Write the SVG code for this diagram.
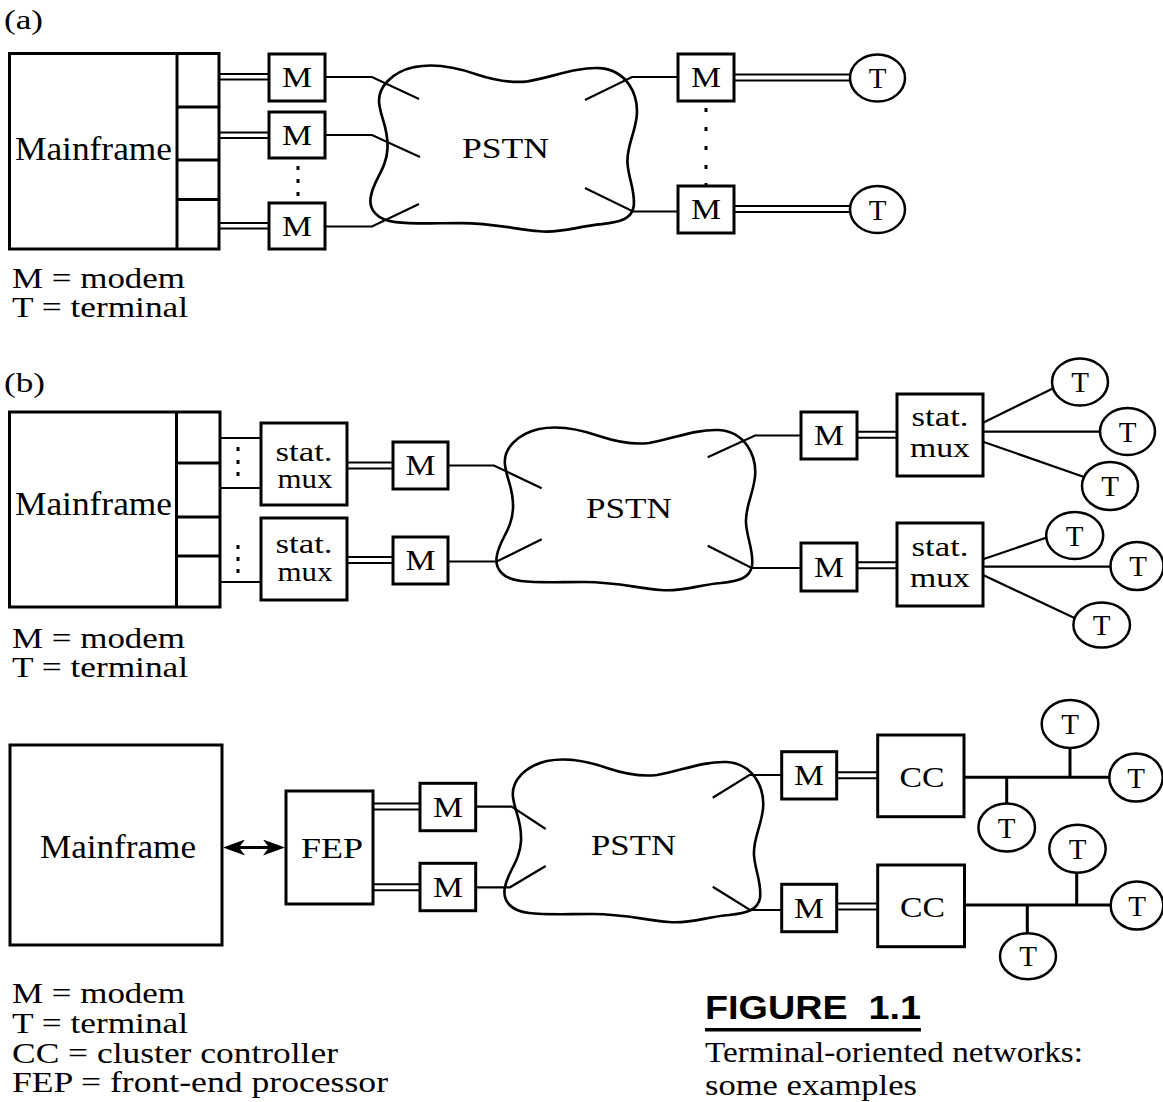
<svg xmlns="http://www.w3.org/2000/svg" xmlns:xlink="http://www.w3.org/1999/xlink" width="1163" height="1102" viewBox="0 0 1163 1102">
<style>
.box{fill:#fff;stroke:#000;stroke-width:3}
.div{fill:none;stroke:#000;stroke-width:3}
.ln{fill:none;stroke:#000;stroke-width:2.2}
.dbl{fill:none;stroke:#000;stroke-width:2}
.bus{fill:none;stroke:#000;stroke-width:3}
.cloud{fill:none;stroke:#000;stroke-width:2.6}
.term{fill:#fff;stroke:#000;stroke-width:2.5}
.t{font-family:"Liberation Serif","Times New Roman",serif;fill:#000}
.c{text-anchor:middle}
.m{font-size:29px}
.big{font-size:33px}
.leg{font-size:29px}
.mux{font-size:27px}
.dot{fill:#000}
</style>
<defs>
<path id="cloud" d="M 8,40 C 6,24 20,9 42,4 C 62,0 82,4 102,11 C 120,17 136,20 152,18 C 176,14 198,4 222,5 C 248,7 260,30 258,52 C 256,70 248,82 249,98 C 250,114 257,126 255,141 C 253,153 242,156 224,158 C 200,160 186,167 164,165 C 140,163 118,157 88,157 C 60,157 40,158 24,156 C 6,154 -3,144 0,130 C 3,114 15,104 16,84 C 17,64 10,56 8,40 Z"/>
<marker id="ah" viewBox="0 0 22 16" refX="6" refY="8" markerWidth="22" markerHeight="16" markerUnits="userSpaceOnUse" orient="auto-start-reverse">
<path d="M0,0 L22,8 L0,16 L6,8 Z" fill="#000"/>
</marker>
</defs>
<rect width="1163" height="1102" fill="#fff"/>

<!-- ================= connectors ================= -->
<g id="connectors">
<!-- (a) -->
<path class="dbl" d="M219,74 H269 M219,79.5 H269 M219,132.5 H269 M219,138 H269 M219,223 H269 M219,228.5 H269"/>
<path class="ln" d="M325,77 H372 L419,99 M325,135 H372 L420,157 M325,226.5 H372 L419,204"/>
<path class="ln" d="M585,100 L632,77 H678 M585,188 L633,211.5 H678"/>
<path class="dbl" d="M734,74.5 H850 M734,80.5 H850 M734,206 H850 M734,212 H850"/>
<!-- (b) -->
<path class="ln" d="M220,438 H262 M220,488 H262 M220,582 H262"/>
<path class="dbl" d="M347,462.5 H393 M347,468.5 H393 M347,557 H393 M347,563 H393"/>
<path class="ln" d="M448,465.5 H494 L541.7,488.3 M448,561.5 H496.7 L541.7,539.3"/>
<path class="ln" d="M707.7,457.3 L755,435.5 H801 M707.7,545.7 L751.7,568 H801"/>
<path class="dbl" d="M857,431.7 H897 M857,437.7 H897 M857,562.3 H897 M857,568.3 H897"/>
<path class="ln" d="M983,422.7 L1053.3,388.3 M983,431.7 H1100 M983,441.7 L1083.3,476.7"/>
<path class="ln" d="M983,559.3 L1046,537.7 M983,566.7 H1110 M983,575 L1075,618.3"/>
<!-- (c) -->
<line class="bus" x1="239" y1="847.5" x2="269" y2="847.5" marker-start="url(#ah)" marker-end="url(#ah)"/>
<path class="dbl" d="M373,803.5 H420 M373,809.5 H420 M373,884.3 H420 M373,890.3 H420"/>
<path class="ln" d="M475.7,806.7 H511.7 L545.7,829 M475.7,887.3 H510 L545.7,866"/>
<path class="ln" d="M712.7,797.7 L749.3,775 H781.7 M712.7,886.7 L750,910 H781.7"/>
<path class="dbl" d="M836.7,772.3 H877.7 M836.7,778.3 H877.7 M836.7,903.5 H877.7 M836.7,909.5 H877.7"/>
<path class="bus" d="M964,777.3 H1109.3 M1006.7,777.3 V804 M1070,777.3 V748.3"/>
<path class="bus" d="M964,905 H1110.7 M1076.7,905 V872.7 M1027.3,905 V933.3"/>
</g>

<!-- ================= section (a) ================= -->
<text class="t" x="4" y="29" font-size="28" textLength="39" lengthAdjust="spacingAndGlyphs">(a)</text>
<g id="a-mainframe">
<rect class="box" x="9.5" y="53.5" width="209.5" height="195.5"/>
<path class="div" d="M177,53.5 V249 M177,107 H219 M177,160 H219 M177,199.5 H219"/>
<text class="t big" x="15" y="160" textLength="157" lengthAdjust="spacingAndGlyphs">Mainframe</text>
</g>
<g id="a-m1"><rect class="box" x="269" y="54" width="56" height="47"/><text class="t m c" x="297" y="87" textLength="30" lengthAdjust="spacingAndGlyphs">M</text></g>
<g id="a-m2"><rect class="box" x="269" y="112" width="56" height="46"/><text class="t m c" x="297" y="144.5" textLength="30" lengthAdjust="spacingAndGlyphs">M</text></g>
<g id="a-m3"><rect class="box" x="269" y="203" width="56" height="46"/><text class="t m c" x="297" y="235.5" textLength="30" lengthAdjust="spacingAndGlyphs">M</text></g>
<g id="a-dots-left"><rect class="dot" x="296.5" y="166" width="3" height="4"/><rect class="dot" x="296.5" y="179" width="3" height="4"/><rect class="dot" x="296.5" y="192" width="3" height="4"/></g>
<g id="a-pstn">
<use xlink:href="#cloud" class="cloud" transform="translate(371,63) scale(1.03,1.02)"/>
<text class="t" x="462" y="158" font-size="30" textLength="87" lengthAdjust="spacingAndGlyphs">PSTN</text>
</g>
<g id="a-m4"><rect class="box" x="678" y="54" width="56" height="47"/><text class="t m c" x="706" y="87" textLength="30" lengthAdjust="spacingAndGlyphs">M</text></g>
<g id="a-m5"><rect class="box" x="678" y="186" width="56" height="47"/><text class="t m c" x="706" y="219" textLength="30" lengthAdjust="spacingAndGlyphs">M</text></g>
<g id="a-dots-right"><rect class="dot" x="704.5" y="108" width="3" height="4"/><rect class="dot" x="704.5" y="127" width="3" height="4"/><rect class="dot" x="704.5" y="146" width="3" height="4"/><rect class="dot" x="704.5" y="165" width="3" height="4"/><rect class="dot" x="704.5" y="183" width="3" height="3"/></g>
<g id="a-t1"><ellipse class="term" cx="877.5" cy="78" rx="27.5" ry="23.5"/><text class="t m c" x="877.5" y="88">T</text></g>
<g id="a-t2"><ellipse class="term" cx="877.5" cy="209.5" rx="27.5" ry="23.5"/><text class="t m c" x="877.5" y="219.5">T</text></g>
<g id="a-legend">
<text class="t leg" x="12" y="287.5" textLength="173" lengthAdjust="spacingAndGlyphs">M = modem</text>
<text class="t leg" x="12" y="317" textLength="176" lengthAdjust="spacingAndGlyphs">T = terminal</text>
</g>

<!-- ================= section (b) ================= -->
<text class="t" x="4" y="392" font-size="28" textLength="41" lengthAdjust="spacingAndGlyphs">(b)</text>
<g id="b-mainframe">
<rect class="box" x="9.5" y="412" width="210.5" height="195"/>
<path class="div" d="M176.5,412 V607 M176.5,463 H220 M176.5,517 H220 M176.5,556 H220"/>
<text class="t big" x="15" y="515" textLength="157" lengthAdjust="spacingAndGlyphs">Mainframe</text>
</g>
<g id="b-dots"><rect class="dot" x="236.5" y="447" width="3" height="4"/><rect class="dot" x="236.5" y="460" width="3" height="4"/><rect class="dot" x="236.5" y="472" width="3" height="4"/><rect class="dot" x="236.5" y="545" width="3" height="4"/><rect class="dot" x="236.5" y="557" width="3" height="4"/><rect class="dot" x="236.5" y="569" width="3" height="4"/></g>
<g id="b-mux1"><rect class="box" x="261" y="423" width="86" height="82"/><text class="t c mux" x="304" y="461" textLength="57" lengthAdjust="spacingAndGlyphs">stat.</text><text class="t c mux" x="305" y="488" textLength="55" lengthAdjust="spacingAndGlyphs">mux</text></g>
<g id="b-mux2"><rect class="box" x="261" y="518" width="86" height="82"/><text class="t c mux" x="304" y="553" textLength="57" lengthAdjust="spacingAndGlyphs">stat.</text><text class="t c mux" x="305" y="581" textLength="55" lengthAdjust="spacingAndGlyphs">mux</text></g>
<g id="b-m1"><rect class="box" x="393" y="442" width="55" height="47"/><text class="t m c" x="420.5" y="475" textLength="30" lengthAdjust="spacingAndGlyphs">M</text></g>
<g id="b-m2"><rect class="box" x="393" y="537" width="55" height="47"/><text class="t m c" x="420.5" y="570" textLength="30" lengthAdjust="spacingAndGlyphs">M</text></g>
<g id="b-pstn">
<use xlink:href="#cloud" class="cloud" transform="translate(497,425)"/>
<text class="t" x="586" y="518" font-size="30" textLength="86" lengthAdjust="spacingAndGlyphs">PSTN</text>
</g>
<g id="b-m3"><rect class="box" x="801" y="412" width="56" height="47"/><text class="t m c" x="829" y="445" textLength="30" lengthAdjust="spacingAndGlyphs">M</text></g>
<g id="b-m4"><rect class="box" x="801" y="543" width="56" height="48"/><text class="t m c" x="829" y="577" textLength="30" lengthAdjust="spacingAndGlyphs">M</text></g>
<g id="b-mux3"><rect class="box" x="897" y="394" width="86" height="82"/><text class="t c mux" x="940" y="426" textLength="57" lengthAdjust="spacingAndGlyphs">stat.</text><text class="t c mux" x="940" y="457" textLength="60" lengthAdjust="spacingAndGlyphs">mux</text></g>
<g id="b-mux4"><rect class="box" x="897" y="523" width="86" height="83"/><text class="t c mux" x="940" y="556" textLength="57" lengthAdjust="spacingAndGlyphs">stat.</text><text class="t c mux" x="940" y="587" textLength="60" lengthAdjust="spacingAndGlyphs">mux</text></g>
<g id="b-t1"><ellipse class="term" cx="1080" cy="382" rx="28" ry="23.5"/><text class="t m c" x="1080" y="392">T</text></g>
<g id="b-t2"><ellipse class="term" cx="1127.5" cy="431.5" rx="27.5" ry="23.5"/><text class="t m c" x="1127.5" y="441.5">T</text></g>
<g id="b-t3"><ellipse class="term" cx="1110" cy="486" rx="28" ry="24"/><text class="t m c" x="1110" y="496">T</text></g>
<g id="b-t4"><ellipse class="term" cx="1074.7" cy="535.5" rx="28.5" ry="23.5"/><text class="t m c" x="1074.7" y="545.5">T</text></g>
<g id="b-t5"><ellipse class="term" cx="1137" cy="566" rx="26.5" ry="24"/><text class="t m c" x="1138" y="576">T</text></g>
<g id="b-t6"><ellipse class="term" cx="1101.7" cy="625" rx="28.3" ry="22.5"/><text class="t m c" x="1101.7" y="635">T</text></g>
<g id="b-legend">
<text class="t leg" x="12" y="648" textLength="173" lengthAdjust="spacingAndGlyphs">M = modem</text>
<text class="t leg" x="12" y="677" textLength="176" lengthAdjust="spacingAndGlyphs">T = terminal</text>
</g>

<!-- ================= section (c) ================= -->
<g id="c-mainframe">
<rect class="box" x="10" y="745" width="212" height="200"/>
<text class="t big" x="40" y="858" textLength="156" lengthAdjust="spacingAndGlyphs">Mainframe</text>
</g>
<g id="c-fep"><rect class="box" x="286" y="791" width="87" height="113"/><text class="t" font-size="30" x="301" y="858" textLength="62" lengthAdjust="spacingAndGlyphs">FEP</text></g>
<g id="c-m1"><rect class="box" x="420" y="783.3" width="55.7" height="47.4"/><text class="t m c" x="448" y="817" textLength="30" lengthAdjust="spacingAndGlyphs">M</text></g>
<g id="c-m2"><rect class="box" x="420" y="863.3" width="55.7" height="47.4"/><text class="t m c" x="448" y="897" textLength="30" lengthAdjust="spacingAndGlyphs">M</text></g>
<g id="c-pstn">
<use xlink:href="#cloud" class="cloud" transform="translate(505,757)"/>
<text class="t" x="591" y="855" font-size="30" textLength="85" lengthAdjust="spacingAndGlyphs">PSTN</text>
</g>
<g id="c-m3"><rect class="box" x="781.7" y="751.7" width="55" height="47.3"/><text class="t m c" x="809" y="785" textLength="30" lengthAdjust="spacingAndGlyphs">M</text></g>
<g id="c-m4"><rect class="box" x="781.7" y="884.3" width="55" height="47.4"/><text class="t m c" x="809" y="918" textLength="30" lengthAdjust="spacingAndGlyphs">M</text></g>
<g id="c-cc1"><rect class="box" x="877.7" y="735" width="86.3" height="81.7"/><text class="t" font-size="30" x="899.5" y="787" textLength="45" lengthAdjust="spacingAndGlyphs">CC</text></g>
<g id="c-cc2"><rect class="box" x="877.7" y="865" width="86.8" height="81.7"/><text class="t" font-size="30" x="900" y="917" textLength="45" lengthAdjust="spacingAndGlyphs">CC</text></g>
<g id="c-t1"><ellipse class="term" cx="1070" cy="724" rx="28.3" ry="24"/><text class="t m c" x="1070" y="734">T</text></g>
<g id="c-t2"><ellipse class="term" cx="1136" cy="777.5" rx="26.7" ry="24"/><text class="t m c" x="1136" y="787.5">T</text></g>
<g id="c-t3"><ellipse class="term" cx="1006.7" cy="827.5" rx="28.3" ry="24"/><text class="t m c" x="1006.7" y="837.5">T</text></g>
<g id="c-t4"><ellipse class="term" cx="1077.5" cy="848.8" rx="28.2" ry="24"/><text class="t m c" x="1077.5" y="858.8">T</text></g>
<g id="c-t5"><ellipse class="term" cx="1137" cy="905.5" rx="26.3" ry="24"/><text class="t m c" x="1137" y="915.5">T</text></g>
<g id="c-t6"><ellipse class="term" cx="1028" cy="956.3" rx="28" ry="23"/><text class="t m c" x="1028" y="966.3">T</text></g>
<g id="c-legend">
<text class="t leg" x="12" y="1003" textLength="173" lengthAdjust="spacingAndGlyphs">M = modem</text>
<text class="t leg" x="12" y="1033" textLength="176" lengthAdjust="spacingAndGlyphs">T = terminal</text>
<text class="t leg" x="12" y="1063" textLength="326" lengthAdjust="spacingAndGlyphs">CC = cluster controller</text>
<text class="t leg" x="12" y="1092" textLength="376" lengthAdjust="spacingAndGlyphs">FEP = front-end processor</text>
</g>

<!-- ================= caption ================= -->
<g id="caption">
<text x="705" y="1019" font-family="'Liberation Sans',Arial,sans-serif" font-weight="bold" font-size="34" xml:space="preserve" textLength="216" lengthAdjust="spacingAndGlyphs">FIGURE  1.1</text>
<rect x="705" y="1028" width="216" height="3.5" fill="#000"/>
<text class="t" x="705" y="1062" font-size="29" textLength="378" lengthAdjust="spacingAndGlyphs">Terminal-oriented networks:</text>
<text class="t" x="705" y="1095" font-size="29" textLength="212" lengthAdjust="spacingAndGlyphs">some examples</text>
</g>
</svg>
